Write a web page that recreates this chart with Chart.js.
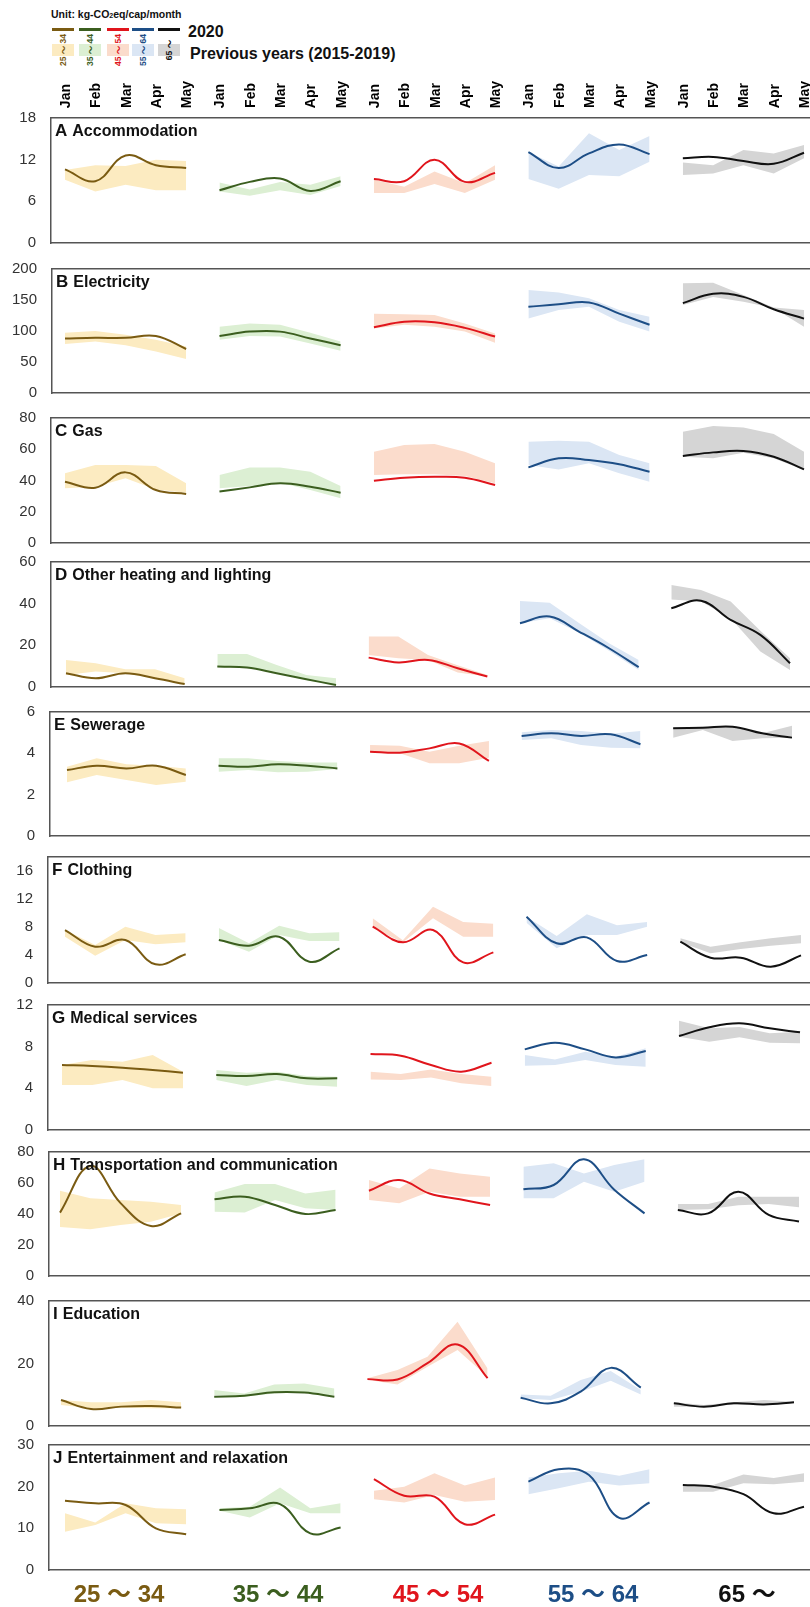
<!DOCTYPE html>
<html>
<head>
<meta charset="utf-8">
<script src="https://cdn.jsdelivr.net/npm/chart.js@4.4.1/dist/chart.umd.min.js"></script>
<style>
  html,body{margin:0;padding:0;background:#fff;}
  body{width:810px;height:1607px;position:relative;overflow:hidden;font-family:"Liberation Sans",Arial,"Noto Sans CJK JP",sans-serif;}
  canvas{position:absolute;left:0;}
  .abs{position:absolute;white-space:nowrap;}
  .ptitle{font-weight:bold;color:#111;font-size:16px;line-height:18px;}
  .ptitle .lt{font-size:17px;margin-right:5px;}
  .age{font-weight:bold;font-size:24px;line-height:28px;transform:translate(-50%,-50%);}
  .vlab{font-size:8.5px;font-weight:bold;line-height:10px;transform:translate(-50%,-50%) rotate(-90deg);}
  .mon{font-size:14px;font-weight:bold;color:#000;width:16px;line-height:16px;writing-mode:vertical-rl;transform:rotate(180deg);}
</style>
</head>
<body>
<script>
// ---------- categories / labels ----------
const months = ['Jan','Feb','Mar','Apr','May'];
const ageGroups = ['25 \uFF5E 34','35 \uFF5E 44','45 \uFF5E 54','55 \uFF5E 64','65 \uFF5E'];
const panelLetters = ['A','B','C','D','E','F','G','H','I','J'];
const panelNames = ['Accommodation','Electricity','Gas','Other heating and lighting','Sewerage','Clothing','Medical services','Transportation and communication','Education','Entertainment and relaxation'];
const yMaxes = [18,200,80,60,6,18,12,80,40,30];
const yTickA = [0,6,12,18];
const yTickB = [0,50,100,150,200];
const yTickC = [0,20,40,60,80];
const yTickD = [0,20,40,60];
const yTickE = [0,2,4,6];
const yTickF = [0,4,8,12,16];
const yTickG = [0,4,8,12];
const yTickH = [0,20,40,60,80];
const yTickI = [0,20,40];
const yTickJ = [0,10,20,30];

// ---------- values: [age group][month] ----------
const accommodation2020 = [[10.6,8.9,12.6,11.2,10.8],[7.6,8.8,9.3,7.5,8.9],[9.2,8.9,12.0,8.8,10.1],[13.1,10.8,12.9,14.2,12.8],[12.2,12.4,11.8,11.4,13.0]];
const accommodationMin = [[9.1,7.4,8.4,7.6,7.6],[7.4,6.8,7.6,6.9,8.2],[7.2,7.2,8.5,7.2,9.1],[9.2,7.8,9.8,9.6,11.7],[9.8,10.0,11.2,10.0,12.2]];
const accommodationMax = [[10.5,11.2,11.1,12.0,11.8],[8.7,7.7,8.8,8.4,9.6],[9.1,8.1,10.3,8.6,11.2],[13.1,11.0,15.8,13.4,15.4],[11.6,11.2,13.4,12.9,14.1]];

const electricity2020 = [[88,89,89,92,71],[92,99,99,88,77],[106,115,114,105,91],[139,143,146,128,110],[145,160,155,135,120]];
const electricityMin = [[79,83,77,67,55],[86,92,91,80,68],[104,110,107,99,81],[120,134,139,115,99],[142,155,147,137,107]];
const electricityMax = [[97,100,94,86,75],[107,112,110,97,83],[128,127,126,112,96],[166,162,153,134,123],[177,178,158,138,134]];

const gas2020 = [[39.2,35.4,45.2,33.9,31.4],[32.9,35.6,38.2,36.0,32.2],[39.9,41.8,42.4,41.8,37.1],[48.4,54.2,53.1,50.4,45.6],[55.7,58.0,58.9,55.2,47.1]];
const gasMin = [[35.0,36.0,41.4,34.3,32.2],[35.0,36.5,38.6,33.9,28.6],[43.5,44.0,44.0,42.9,38.2],[49.9,47.1,51.0,44.6,39.2],[55.2,54.2,57.8,54.2,46.7]];
const gasMax = [[44.6,49.9,49.9,49.3,38.2],[43.5,48.4,48.4,45.6,36.5],[58.4,62.7,63.4,58.4,51.0],[64.8,65.5,64.8,56.3,51.0],[71.2,74.9,74.0,69.8,58.4]];

const heating2020 = [[6.6,4.2,6.6,4.2,1.4],[9.8,9.4,6.6,3.7,1.0],[14.1,11.8,13.0,9.0,5.0],[30.6,33.8,26.5,18.6,9.5],[37.8,41.4,32.2,25.0,11.4]];
const heatingMin = [[5.8,7.4,6.6,4.2,1.8],[9.5,9.5,6.6,3.4,1.0],[15.4,13.8,13.0,7.0,5.0],[30.6,33.0,26.1,17.4,8.2],[42.0,41.0,33.0,17.0,8.2]];
const heatingMax = [[13.0,11.4,8.5,8.5,4.2],[15.8,15.8,10.6,5.8,4.2],[24.2,24.2,15.4,10.5,5.8],[41.3,40.5,30.6,21.0,13.0],[49.0,46.6,41.0,27.0,13.8]];

const sewerage2020 = [[3.19,3.40,3.27,3.40,2.95],[3.40,3.35,3.47,3.40,3.27],[4.08,4.03,4.24,4.48,3.63],[4.84,4.97,4.84,4.92,4.44],[5.21,5.24,5.29,4.97,4.76]];
const sewerageMin = [[2.60,2.95,2.71,2.47,2.63],[3.11,3.19,3.08,3.11,3.24],[4.05,4.00,3.52,3.52,3.79],[4.64,4.73,4.40,4.27,4.24],[4.76,5.13,4.60,4.73,4.76]];
const sewerageMax = [[3.35,3.76,3.47,3.40,3.27],[3.76,3.76,3.63,3.56,3.56],[4.40,4.37,4.08,4.37,4.60],[5.02,5.13,5.08,4.95,5.08],[5.24,5.29,5.29,4.97,5.34]];

const clothing2020 = [[7.57,5.19,6.14,2.67,4.10],[6.14,5.33,6.62,3.05,4.95],[8.05,5.81,7.57,2.95,4.38],[9.48,5.67,6.52,3.14,4.00],[5.90,3.62,3.62,2.33,3.95]];
const clothingMin = [[6.62,3.90,6.14,5.52,5.81],[6.14,4.48,6.86,6.00,6.00],[7.90,5.80,9.24,6.62,6.62],[8.60,4.95,6.86,6.86,8.05],[5.81,4.24,4.86,5.33,5.67]];
const clothingMax = [[7.57,5.43,8.05,6.86,7.10],[7.86,5.67,8.19,7.10,7.24],[9.24,6.10,10.90,8.71,8.48],[9.48,6.70,9.81,8.24,8.71],[6.38,5.19,5.81,6.38,6.86]];

const medical2020 = [[6.24,6.14,5.98,5.76,5.50],[5.28,5.18,5.37,4.96,4.96],[7.29,7.13,6.24,5.60,6.46],[7.74,8.38,7.74,6.97,7.58],[9.02,9.86,10.24,9.76,9.38]];
const medicalMin = [[4.32,4.32,4.80,4.00,4.00],[4.80,4.22,4.80,4.32,4.16],[4.86,4.80,5.05,4.48,4.22],[6.17,6.24,6.72,6.24,6.08],[8.96,8.48,8.90,8.38,8.32]];
const medicalMax = [[6.24,6.72,6.56,7.20,5.60],[5.76,5.50,5.60,5.18,5.12],[5.60,5.37,5.82,5.37,5.12],[7.20,6.78,7.52,7.04,7.84],[10.50,9.76,9.90,9.28,9.44]];

const transport2020 = [[40.9,71.0,47.0,32.3,40.4],[49.5,51.2,45.8,40.0,42.6],[55.0,61.9,53.2,49.5,45.8],[55.9,58.7,75.3,55.7,40.4],[42.6,40.4,54.4,39.4,35.1]];
const transportMin = [[31.6,30.1,32.9,35.0,40.4],[41.5,40.9,49.0,43.7,42.6],[49.0,46.9,54.4,51.2,51.2],[50.1,50.1,60.8,54.4,60.8],[42.6,43.0,45.6,46.5,44.4]];
const transportMax = [[55.0,50.1,49.0,47.9,45.8],[53.9,59.4,59.4,53.2,55.7],[61.9,56.5,69.3,66.1,64.0],[70.5,72.7,66.1,71.6,75.3],[46.5,46.5,51.2,51.2,51.2]];

const education2020 = [[8.3,5.44,6.2,6.4,5.9],[9.39,9.7,10.8,10.7,9.39],[15.0,14.9,20.1,26.1,15.3],[9.07,7.25,11.0,18.6,12.3],[7.25,6.2,7.25,6.9,7.57]];
const educationMin = [[6.7,5.65,5.9,5.65,5.65],[9.9,9.4,10.4,10.8,9.7],[14.8,13.3,19.0,24.3,15.8],[8.85,8.3,11.0,14.5,10.1],[6.2,6.2,6.9,6.9,7.25]];
const educationMax = [[8.3,7.57,7.57,8.3,7.57],[11.5,10.4,13.3,13.6,12.0],[15.3,17.9,22.2,33.4,18.4],[10.1,9.7,14.7,17.6,11.5],[7.57,6.7,7.57,8.3,7.8]];

const entertainment2020 = [[16.6,16.0,15.6,10.0,8.6],[14.4,14.8,15.8,8.8,10.2],[21.8,17.8,17.6,11.0,13.3],[21.2,24.2,22.8,12.5,16.2],[20.4,20.0,18.2,13.6,15.2]];
const entertainmentMin = [[9.2,10.8,13.6,11.2,11.0],[14.2,12.6,16.0,13.6,13.6],[17.0,16.2,18.0,16.4,16.8],[18.2,19.6,21.2,20.3,20.8],[18.8,18.8,20.8,20.6,21.2]];
const entertainmentMax = [[13.6,11.4,16.0,14.8,14.6],[14.8,15.2,19.8,14.8,16.0],[19.0,20.0,23.2,20.3,22.2],[22.2,23.2,23.8,22.6,24.2],[20.4,20.4,22.9,22.1,23.2]];

// ---------- styles ----------
const lineColors = ['#7a5b12','#3b5e1f','#e0151c','#1d4e86','#111111'];
const bandColors = ['#fcebc1','#dcefd3','#fbdccc','#dbe6f4','#d5d5d5'];
const frameColor = '#555555';
const GROUP_STEP = 5.1;

const panelLines = [accommodation2020,electricity2020,gas2020,heating2020,sewerage2020,clothing2020,medical2020,transport2020,education2020,entertainment2020];
const panelMins = [accommodationMin,electricityMin,gasMin,heatingMin,sewerageMin,clothingMin,medicalMin,transportMin,educationMin,entertainmentMin];
const panelMaxs = [accommodationMax,electricityMax,gasMax,heatingMax,sewerageMax,clothingMax,medicalMax,transportMax,educationMax,entertainmentMax];
const panelTicks = [yTickA,yTickB,yTickC,yTickD,yTickE,yTickF,yTickG,yTickH,yTickI,yTickJ];

// pixel layout of each panel frame
const frames = [
  {top:118,bottom:243,left:51,x0:65,x1:804},
  {top:269,bottom:393,left:52,x0:65,x1:804},
  {top:418,bottom:543,left:51,x0:65,x1:804},
  {top:562,bottom:687,left:51,x0:66,x1:790},
  {top:712,bottom:836,left:50,x0:67,x1:792},
  {top:857,bottom:983,left:48,x0:65,x1:801},
  {top:1005,bottom:1130,left:48,x0:62,x1:800},
  {top:1152,bottom:1276,left:49,x0:60,x1:799},
  {top:1301,bottom:1426,left:49,x0:61,x1:794},
  {top:1445,bottom:1570,left:49,x0:65,x1:804}
];

const FONT = '"Liberation Sans", Arial, sans-serif';
const monthPositions = [];
ageGroups.forEach((a,g)=>months.forEach((m,k)=>monthPositions.push(g*GROUP_STEP+k)));

function addDiv(html, cls, style){
  const d = document.createElement('div');
  d.className = 'abs ' + (cls||'');
  d.innerHTML = html;
  Object.assign(d.style, style);
  document.body.appendChild(d);
  return d;
}

// ---------- legend ----------
addDiv('Unit: kg-CO<span style="font-size:7px">2</span>eq/cap/month','',{left:'51px',top:'8px',fontSize:'10.5px',fontWeight:'bold',color:'#111'});
const swX = [52,79,107,132,158];
lineColors.forEach((c,g)=>{
  addDiv('','',{left:swX[g]+'px',top:'28px',width:'22px',height:'2.5px',background:c});
  addDiv('','',{left:swX[g]+'px',top:'44px',width:'22px',height:'12px',background:bandColors[g]});
  addDiv(ageGroups[g],'vlab',{left:(swX[g]+11)+'px',top:'50px',color:lineColors[g]});
});
addDiv('2020','',{left:'188px',top:'23px',fontSize:'16px',fontWeight:'bold',color:'#111'});
addDiv('Previous years (2015-2019)','',{left:'190px',top:'45px',fontSize:'16px',fontWeight:'bold',color:'#111'});

// ---------- panels ----------
function makePanel(i){
  const F = frames[i];
  const cTop = F.top - 14;
  const h = F.bottom - cTop + 14;
  const cv = document.createElement('canvas');
  cv.width = 810; cv.height = h;
  cv.style.top = cTop + 'px'; cv.style.width = '810px'; cv.style.height = h + 'px';
  document.body.appendChild(cv);

  const unit = (F.x1 - F.x0) / (4*GROUP_STEP + 4);
  const xmin = -(F.x0 - F.left) / unit;
  const xmax = (810 - F.x0) / unit;

  const datasets = [];
  ageGroups.forEach((a,g)=>{
    datasets.push({data: months.map((m,k)=>({x:g*GROUP_STEP+k, y:panelMins[i][g][k]})),
      borderWidth:0, pointRadius:0, fill:false, tension:0, order:3, borderColor:'rgba(0,0,0,0)'});
    datasets.push({data: months.map((m,k)=>({x:g*GROUP_STEP+k, y:panelMaxs[i][g][k]})),
      borderWidth:0, pointRadius:0, fill:'-1', tension:0, order:3, borderColor:'rgba(0,0,0,0)', backgroundColor:bandColors[g]});
  });
  ageGroups.forEach((a,g)=>{
    datasets.push({data: months.map((m,k)=>({x:g*GROUP_STEP+k, y:panelLines[i][g][k]})),
      borderWidth:2, pointRadius:0, fill:false, tension:0.4, order:1, borderColor:lineColors[g]});
  });

  const noPad = s => { s.paddingLeft = 0; s.paddingRight = 0; s.paddingTop = 0; s.paddingBottom = 0; };
  const chart = new Chart(cv, {
    type:'line',
    data:{datasets},
    options:{
      responsive:false, animation:false, devicePixelRatio:1,
      layout:{padding:0, autoPadding:false},
      plugins:{legend:{display:false}, tooltip:{enabled:false}},
      scales:{
        x:{type:'linear', position:'bottom', min:xmin, max:xmax,
           grid:{display:false, drawTicks:false}, ticks:{display:false},
           border:{display:true, color:frameColor, width:1.5},
           afterFit(s){ s.height = 14; noPad(s); }},
        xTop:{type:'linear', position:'top', min:xmin, max:xmax,
           grid:{display:false, drawTicks:false}, ticks:{display:false},
           border:{display:true, color:frameColor, width:1.5},
           afterBuildTicks(s){ s.ticks = monthPositions.map(v=>({value:v})); },
           afterFit(s){ s.height = 14; noPad(s); }},
        y:{type:'linear', min:0, max:yMaxes[i],
           afterBuildTicks(s){ s.ticks = panelTicks[i].map(v=>({value:v})); },
           grid:{display:false, drawTicks:false},
           border:{display:true, color:frameColor, width:1.5},
           ticks:{color:'#333', padding:15, font:{family:FONT, size:15}},
           afterFit(s){ s.width = F.left; noPad(s); }}
      }
    }
  });

  addDiv('<span class="lt">'+panelLetters[i]+'</span>'+panelNames[i],'ptitle',{left:(F.left+4)+'px',top:(F.top+4)+'px'});

  // month tick labels above the first panel, placed with the chart's own top scale
  if (i === 0) {
    const sc = chart.scales.xTop;
    sc.ticks.forEach((t,idx)=>{
      const px = sc.getPixelForValue(t.value);
      addDiv(months[idx % months.length],'mon',{left:(px-8)+'px',bottom:(1607-108)+'px'});
    });
  }
}
for(let i=0;i<frames.length;i++) makePanel(i);

// ---------- bottom age labels ----------
const ageX = [119,278,438,593,747];
ageGroups.forEach((a,g)=>addDiv(a,'age',{left:ageX[g]+'px',top:'1594px',color:lineColors[g]}));
</script>
</body>
</html>
